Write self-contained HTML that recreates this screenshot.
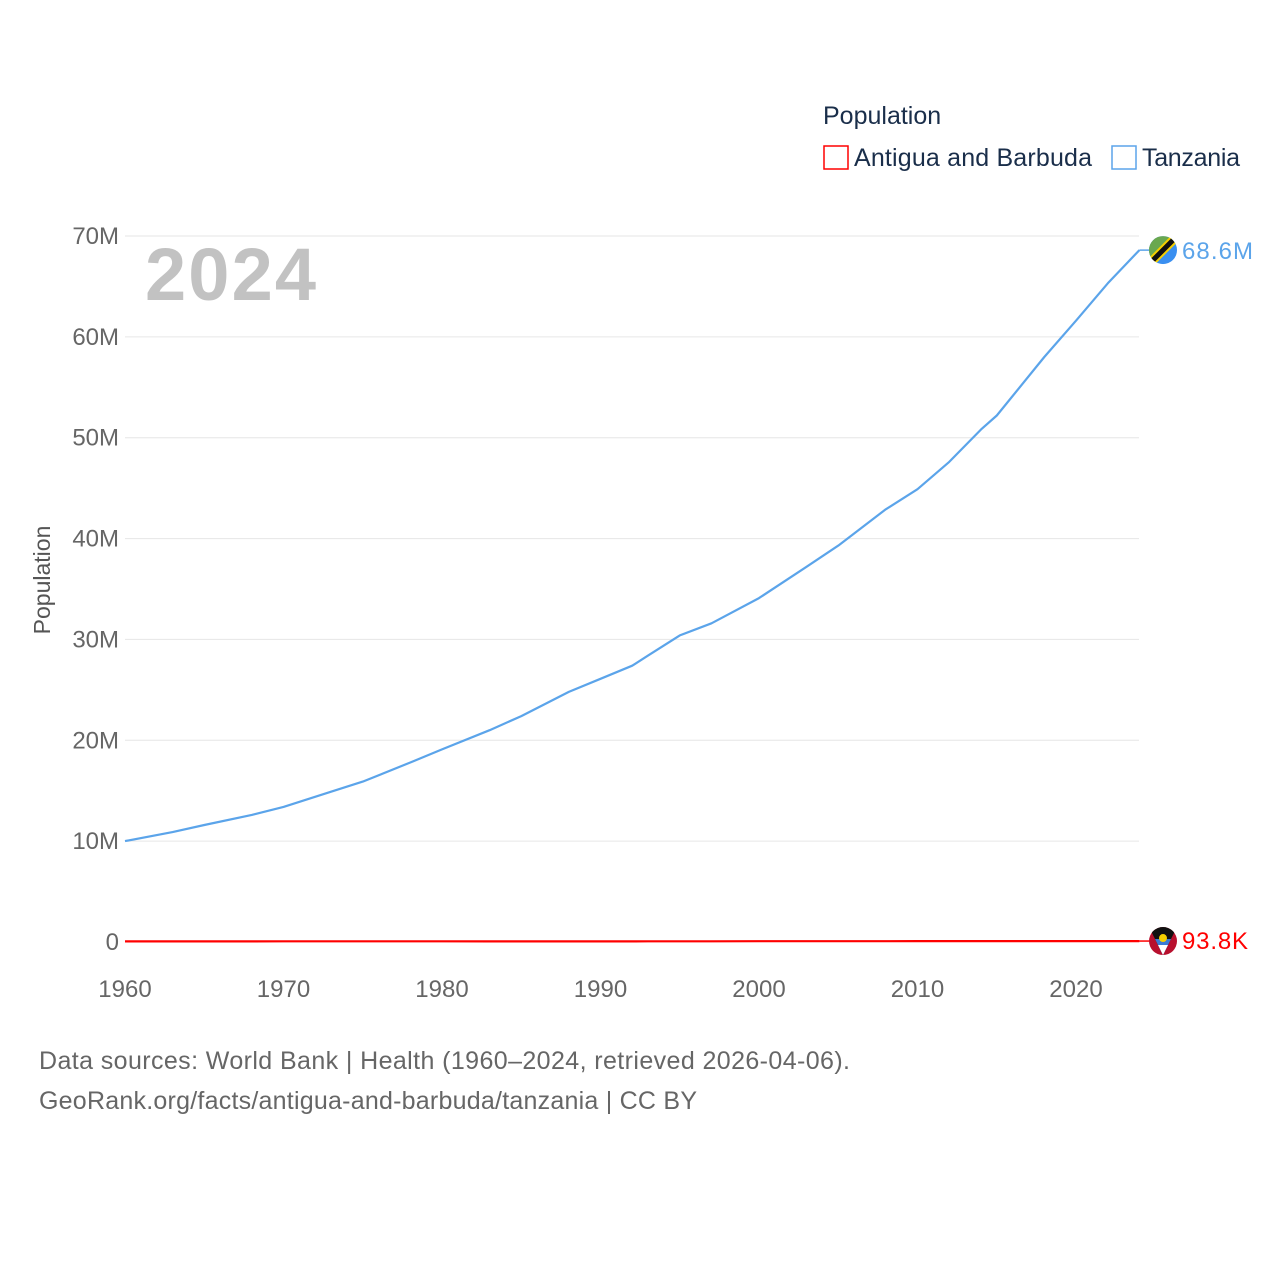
<!DOCTYPE html>
<html><head><meta charset="utf-8"><style>
body{margin:0;background:#fff;font-family:"Liberation Sans",sans-serif}
svg text{font-family:"Liberation Sans",sans-serif}
</style></head><body>
<svg id="c" width="1280" height="1280" xmlns="http://www.w3.org/2000/svg">
<text x="823" y="124" font-size="25" fill="#1a2e4a">Population</text>
<g>
<rect x="824" y="146" width="24" height="23" fill="none" stroke="#ff0000" stroke-width="1.5"/>
<text x="854" y="166" font-size="25" fill="#1a2e4a" textLength="238">Antigua and Barbuda</text></g>
<g>
<rect x="1112" y="146" width="24" height="23" fill="none" stroke="#5ba4ea" stroke-width="1.5"/>
<text x="1142" y="166" font-size="25" fill="#1a2e4a" textLength="98">Tanzania</text></g>
<text x="145" y="300" font-size="74" font-weight="bold" fill="#c2c2c2" textLength="171">2024</text>
<text transform="translate(50,580) rotate(-90)" text-anchor="middle" font-size="23" fill="#555">Population</text>
<g id="grid"></g><g id="yt"></g><g id="xt"></g><g id="lines"></g>
<text x="39" y="1069" font-size="25" fill="#666" textLength="811">Data sources: World Bank | Health (1960–2024, retrieved 2026-04-06).</text>
<text x="39" y="1109" font-size="25" fill="#666" textLength="658">GeoRank.org/facts/antigua-and-barbuda/tanzania | CC BY</text>
</svg>
<script>
const years=[1960,1963,1965,1968,1970,1973,1975,1978,1980,1983,1985,1988,1990,1992,1993,1995,1997,2000,2003,2005,2008,2010,2012,2014,2015,2018,2020,2022,2024];
const tanzania=[10.0,10.9,11.6,12.6,13.4,14.9,15.9,17.8,19.1,21.0,22.4,24.8,26.1,27.4,28.4,30.4,31.6,34.1,37.2,39.3,42.9,44.9,47.6,50.8,52.2,58.0,61.6,65.3,68.6];
const antigua=[0.055,0.058,0.060,0.063,0.065,0.066,0.066,0.065,0.065,0.064,0.064,0.063,0.063,0.064,0.065,0.068,0.071,0.075,0.079,0.081,0.084,0.086,0.088,0.089,0.090,0.091,0.092,0.093,0.0938];
const yTicks=[0,10,20,30,40,50,60,70];
const yLabels=["0","10M","20M","30M","40M","50M","60M","70M"];
const xTicks=[1960,1970,1980,1990,2000,2010,2020];
const NS="http://www.w3.org/2000/svg";
const X=y=>125+(y-1960)*(1076-125)/60;
const Y=v=>942-v*(942-236)/70;
function mk(t,a,p){const e=document.createElementNS(NS,t);for(const k in a)e.setAttribute(k,a[k]);p.appendChild(e);return e;}
const g=document.getElementById('grid'),yt=document.getElementById('yt'),xt=document.getElementById('xt'),L=document.getElementById('lines');
yTicks.forEach((v,i)=>{
 if(v>0){const l=mk('line',{x1:125,x2:1139,y1:Y(v),y2:Y(v),stroke:'#e6e6e6','stroke-width':1},g);
 
 }
 const t=mk('text',{x:119,y:Y(v)+8,'text-anchor':'end','font-size':24,fill:'#666'},yt);t.textContent=yLabels[i];
 
 
});
xTicks.forEach(v=>{const t=mk('text',{x:X(v),y:997,'text-anchor':'middle','font-size':24,fill:'#666'},xt);t.textContent=v;
 
 });
function line(vals,col,name){
 const d=vals.map((v,i)=>(i?'L':'M')+X(years[i]).toFixed(1)+','+Y(v).toFixed(1)).join(' ');
 const p=mk('path',{d:d,fill:'none',stroke:col,'stroke-width':2.2,'stroke-linejoin':'round'},L);
 
 
 const last=vals[vals.length-1],ly=Y(last),lx=X(years[years.length-1]);
 mk('line',{x1:lx,x2:1150,y1:ly,y2:ly,stroke:col,'stroke-width':1.5},L);
 return ly;
}
const ya=line(antigua,'#ff0000','series-antigua');
const yt2=line(tanzania,'#5ba4ea','series-tanzania');
const ft=mk('g',{},L);
const cp1=mk('clipPath',{id:'cp1'},ft);mk('circle',{cx:1163,cy:yt2,r:14},cp1);
const gg=mk('g',{'clip-path':'url(#cp1)'},ft);
mk('rect',{x:1149,y:yt2-14,width:28,height:28,fill:'#3a8ff0'},gg);
mk('polygon',{points:`1149,${yt2-14} 1177,${yt2-14} 1149,${yt2+14}`,fill:'#6aa84f'},gg);
mk('line',{x1:1149,y1:yt2+14,x2:1177,y2:yt2-14,stroke:'#f5d000','stroke-width':9},gg);
mk('line',{x1:1149,y1:yt2+14,x2:1177,y2:yt2-14,stroke:'#111','stroke-width':5},gg);
let t=mk('text',{x:1182,y:yt2+9,'font-size':24,fill:'#5ba4ea',textLength:71},L);t.textContent='68.6M';


const fa=mk('g',{},L);
const cpa=mk('clipPath',{id:'cp2'},fa);mk('circle',{cx:1163,cy:ya,r:14},cpa);
const ga=mk('g',{'clip-path':'url(#cp2)'},fa);
mk('rect',{x:1149,y:ya-14,width:28,height:28,fill:'#b8102e'},ga);
mk('polygon',{points:`1149,${ya-14} 1177,${ya-14} 1163,${ya+14}`,fill:'#111'},ga);
mk('polygon',{points:`1155,${ya-2} 1171,${ya-2} 1163,${ya+14}`,fill:'#3a7bd5'},ga);
mk('polygon',{points:`1158,${ya+4} 1168,${ya+4} 1163,${ya+14}`,fill:'#fff'},ga);
mk('circle',{cx:1163,cy:ya-3,r:4,fill:'#f5d000'},ga);
t=mk('text',{x:1182,y:ya+8,'font-size':24,fill:'#ff0000',textLength:66},L);t.textContent='93.8K';


</script>
</body></html>
